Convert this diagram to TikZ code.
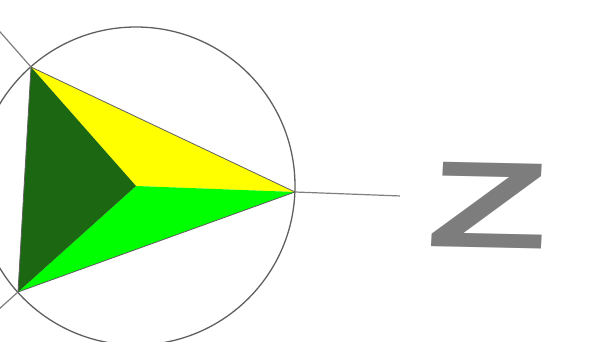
\documentclass[tikz,border=0pt]{standalone}
\usepackage{fontspec}
\setsansfont{Liberation Sans}
\usepackage{xcolor}
\definecolor{fcyellow}{RGB}{255,255,0}
\definecolor{fcgreen}{RGB}{0,255,0}
\definecolor{fcdark}{RGB}{28,104,18}
\definecolor{fcgray}{RGB}{125,125,125}
\definecolor{fcline}{RGB}{95,95,95}
\usetikzlibrary{calc}

\begin{document}
\begin{tikzpicture}[x=1pt, y=-1pt]
  \useasboundingbox (0,0) rectangle (600,342);

  % Centre and vertices of the inscribed face
  \coordinate (o) at (136,186);
  \coordinate (va) at (31,67);
  \coordinate (vb) at (295,192);
  \coordinate (vc) at (18,292);

  % Coloured sectors
  \fill[fcyellow] (va) -- (vb) -- (o) -- cycle;
  \fill[fcgreen] (o) -- (vb) -- (vc) -- cycle;
  \fill[fcdark] (va) -- (o) -- (vc) -- cycle;
  \draw[fcline, line width=0.8pt, line join=round] (va) -- (vb) -- (vc) -- cycle;

  % Circle and the three spokes
  \draw[fcline, line width=1.3pt] (o) circle[radius=159];
  \draw[fcline!80, line width=1.2pt] (vb) -- ($(o)!1.66!(vb)$);
  \draw[fcline!80, line width=1.2pt] (va) -- ($(o)!1.6!(va)$);
  \draw[fcline!80, line width=1.2pt] (vc) -- ($(o)!1.5!(vc)$);

  % Axis letter
  \node[text=fcgray, font=\sffamily\bfseries\fontsize{123}{123}\selectfont, inner sep=0pt, xscale=1.62, rotate=-2] (zlabel) at (489,206) {Z};
\end{tikzpicture}
\end{document}
